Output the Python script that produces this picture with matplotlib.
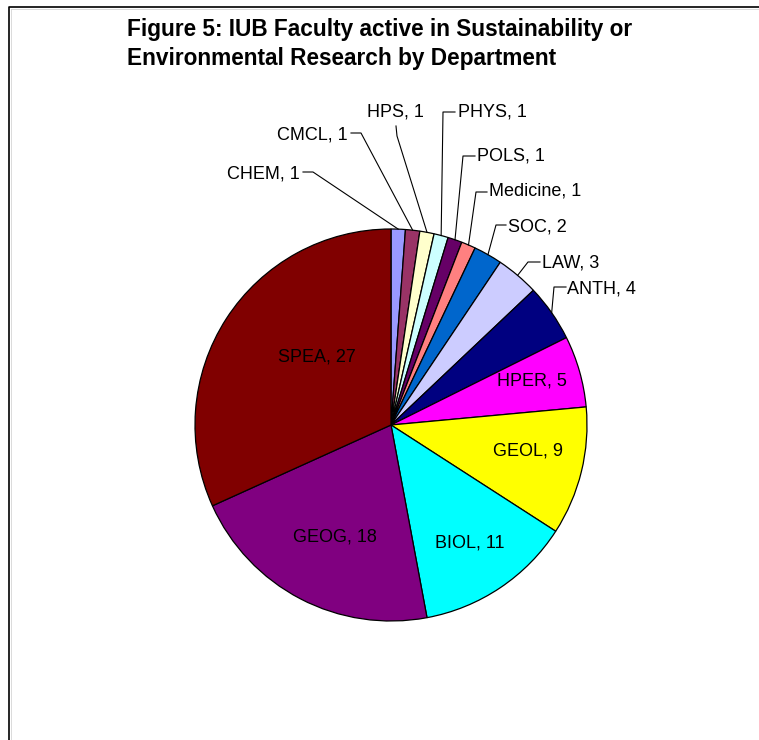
import numpy as np
import matplotlib.pyplot as plt

W, H = 759, 740

departments = ["CHEM", "CMCL", "HPS", "PHYS", "POLS", "Medicine", "SOC",
               "LAW", "ANTH", "HPER", "GEOL", "BIOL", "GEOG", "SPEA"]
faculty = [1, 1, 1, 1, 1, 1, 2, 3, 4, 5, 9, 11, 18, 27]
colors = ["#9999FF", "#993366", "#FFFFCC", "#CCFFFF", "#660066", "#FF8080",
          "#0066CC", "#CCCCFF", "#000080", "#FF00FF", "#FFFF00", "#00FFFF",
          "#800080", "#800000"]

title = ("Figure 5: IUB Faculty active in Sustainability or\n"
         "Environmental Research by Department")

# label layout in pixel coords (y measured from the top)
inside_pos = {"HPER": (532, 381), "GEOL": (528, 451), "BIOL": (470, 543),
              "GEOG": (335, 537), "SPEA": (317, 357)}
outside_pos = {
    "CHEM": ((300, 174), "right", [(303, 172), (313, 172)]),
    "CMCL": ((348, 135), "right", [(351, 133), (361, 133)]),
    "HPS": ((395, 112), "center", [(396, 126), (397, 136)]),
    "PHYS": ((458, 112), "left", [(455, 112), (443, 112)]),
    "POLS": ((477, 156), "left", [(475, 156), (463, 156)]),
    "Medicine": ((489, 191), "left", [(487, 192), (476, 192)]),
    "SOC": ((508, 227), "left", [(506, 225), (496, 225)]),
    "LAW": ((542, 263), "left", [(540, 262), (528, 262)]),
    "ANTH": ((567, 289), "left", [(566, 287), (554, 287)]),
}

plt.rcParams["font.family"] = ["Liberation Sans", "DejaVu Sans"]

fig = plt.figure(figsize=(W / 100, H / 100), dpi=100)
ax = fig.add_axes([0, 0, 1, 1])
ax.set_xlim(0, W)
ax.set_ylim(0, H)
ax.set_aspect("equal")
ax.axis("off")

cx, cy, r = 391, 425, 196
wedges, _ = ax.pie(faculty, colors=colors, startangle=90, counterclock=False,
                   center=(cx, H - cy), radius=r,
                   wedgeprops=dict(edgecolor="black", linewidth=0.9))
ax.set_xlim(0, W)
ax.set_ylim(0, H)

for name, val, w in zip(departments, faculty, wedges):
    txt = f"{name}, {val}"
    if name in inside_pos:
        x, y = inside_pos[name]
        ax.text(x, H - y, txt, ha="center", va="center", fontsize=13)
    else:
        (x, y), ha, pts = outside_pos[name]
        ax.text(x, H - y, txt, ha=ha, va="center", fontsize=13)
        mid = np.deg2rad((w.theta1 + w.theta2) / 2)
        ex, ey = cx + r * np.cos(mid), (H - cy) + r * np.sin(mid)
        xs = [p[0] for p in pts] + [ex]
        ys = [H - p[1] for p in pts] + [ey]
        ax.plot(xs, ys, color="black", lw=0.8)

# frame around the chart area
ax.plot([9, 9, W + 5], [-5, H - 7, H - 7], color="black", lw=1.2)
ax.plot([10.5, 10.5], [-5, H - 8.5], color="#cccccc", lw=0.5)
ax.plot([10.5, W + 5], [H - 8.5, H - 8.5], color="#cccccc", lw=0.5)

fig.text(127 / W, 1 - 18 / H, title, ha="left", va="top", fontsize=16.3,
         fontweight="bold", linespacing=1.35)

plt.savefig("out.png", dpi=100)
